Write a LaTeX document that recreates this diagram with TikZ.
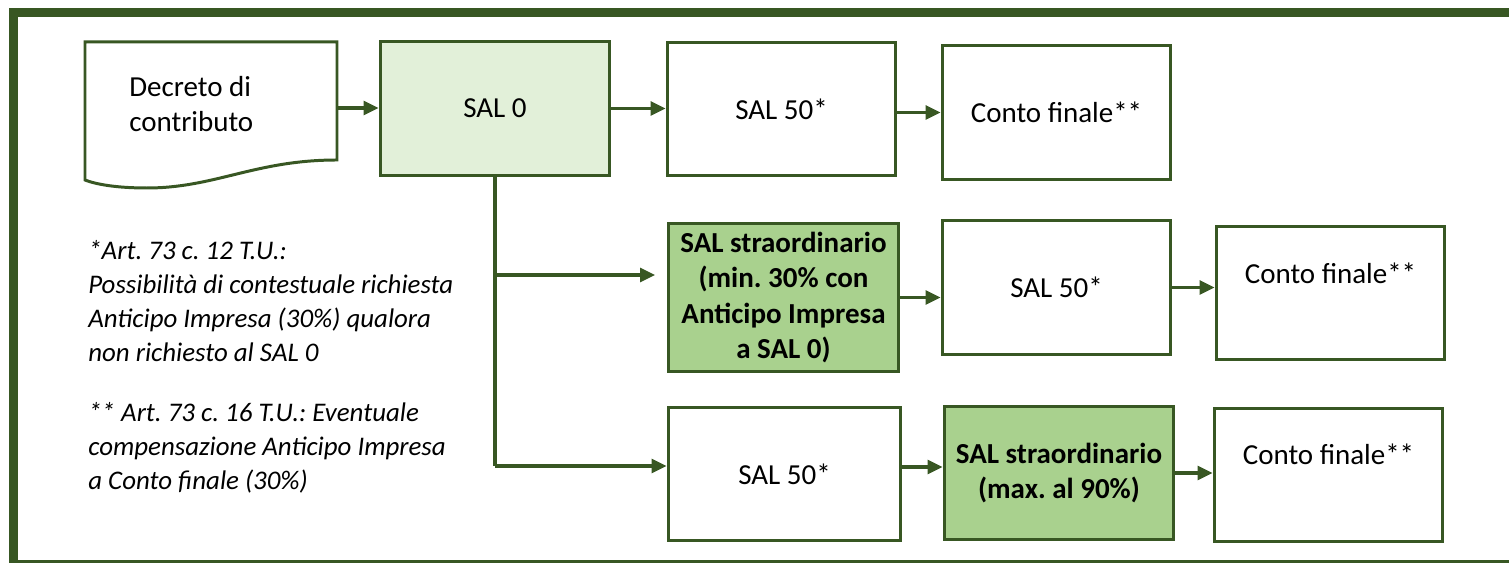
\documentclass[tikz,border=0pt]{standalone}
\usepackage{fontspec}
\setmainfont{Carlito}
\frenchspacing
\usetikzlibrary{arrows.meta}
\definecolor{salgreen}{HTML}{385723}
\definecolor{sallight}{HTML}{E2F0D9}
\definecolor{salmid}{HTML}{A9D18E}
\tikzset{
	saltext/.style={font=\fontsize{16.5}{20.2}\selectfont},
	salbox/.style={saltext, draw=salgreen, line width=1.7pt, minimum width=4.6cm, minimum height=2.68cm, align=center, inner sep=2pt},
	salbold/.style={salbox, fill=salmid, font=\bfseries\fontsize{16.5}{20.2}\selectfont},
	flow/.style={draw=salgreen, line width=1.8pt, -{Triangle[length=0.3cm,width=0.28cm]}},
	note/.style={anchor=north west, align=left, inner sep=0pt, font=\itshape\fontsize{15.3}{19.4}\selectfont},
}

\begin{document}
\begin{tikzpicture}[x=0.02cm, y=-0.02cm]
		%%%%% START %%%%%
		
		\useasboundingbox (0,0) rectangle (1509,563);
		\draw[salgreen, line width=4.6pt] (13.5,12.5) rectangle (1530,564.5);
		
		\draw[salgreen, line width=1.7pt] (85,42) -- (337,42) -- (337,160) .. controls (255,160) and (215,188) .. (147,188) .. controls (115,188) and (95,184) .. (85,180) -- cycle;
		\node[saltext, align=left, anchor=west, inner sep=0pt] (doc) at (129,104) {Decreto di\\contributo};
		\coordinate (docR) at (337,108);
		
		\node[salbox, fill=sallight] (sal0) at (495,108.5) {SAL 0};
		\node[salbox, minimum width=4.58cm] (s50a) at (781.5,109) {SAL 50*};
		\node[salbox, minimum width=4.58cm] (cfa) at (1056.5,112.5) {Conto finale**};
		
		\node[salbold, minimum width=4.62cm, minimum height=2.98cm] (str1) at (783.5,297.5) {SAL straordinario\\(min. 30\% con\\Anticipo Impresa\\a SAL 0)};
		\node[salbox, minimum width=4.58cm] (s50b) at (1056.5,287.5) {SAL 50*};
		\node[salbox, minimum width=4.58cm, label={[saltext, yshift=0.4cm]center:Conto finale**}] (cfb) at (1330.5,293) {};
		
		\node[salbox, minimum width=4.66cm] (s50c) at (784.5,474) {SAL 50*};
		\node[salbold] (str2) at (1059,473) {SAL straordinario\\(max. al 90\%)};
		\node[salbox, minimum width=4.58cm, label={[saltext, yshift=0.42cm]center:Conto finale**}] (cfc) at (1328.5,475) {};
		
		\node[note] (note1) at (88,240) {*Art. 73 c. 12 T.U.:\\Possibilità di contestuale richiesta\\Anticipo Impresa (30\%) qualora\\non richiesto al SAL 0};
		\node[note] (note2) at (88,402) {** Art. 73 c. 16 T.U.: Eventuale\\compensazione Anticipo Impresa\\a Conto finale (30\%)};
		
		\draw[flow] (docR) -- (docR -| sal0.west);
		\draw[flow] (sal0.east) -- (sal0.east -| s50a.west);
		\draw[flow] (s50a.east |- cfa.west) -- (cfa.west);
		
		\coordinate (fork1) at (495,275);
		\coordinate (fork2) at (495,466);
		\coordinate (str1in) at (655,275);
		\draw[salgreen, line width=1.8pt] (sal0.south) -- (fork2);
		\draw[flow] (fork1) -- (str1in);
		\draw[flow] (fork2) -- (fork2 -| s50c.west);
		
		\draw[flow] (str1.east) -- (str1.east -| s50b.west);
		\draw[flow] (s50b.east) -- (s50b.east -| cfb.west);
		\coordinate (s50cout) at ([yshift=0.14cm]s50c.east);
		\draw[flow] (s50cout) -- (s50cout -| str2.west);
		\draw[flow] (str2.east) -- (str2.east -| cfc.west);
		
		%%%%% END %%%%%
\end{tikzpicture}
\end{document}
